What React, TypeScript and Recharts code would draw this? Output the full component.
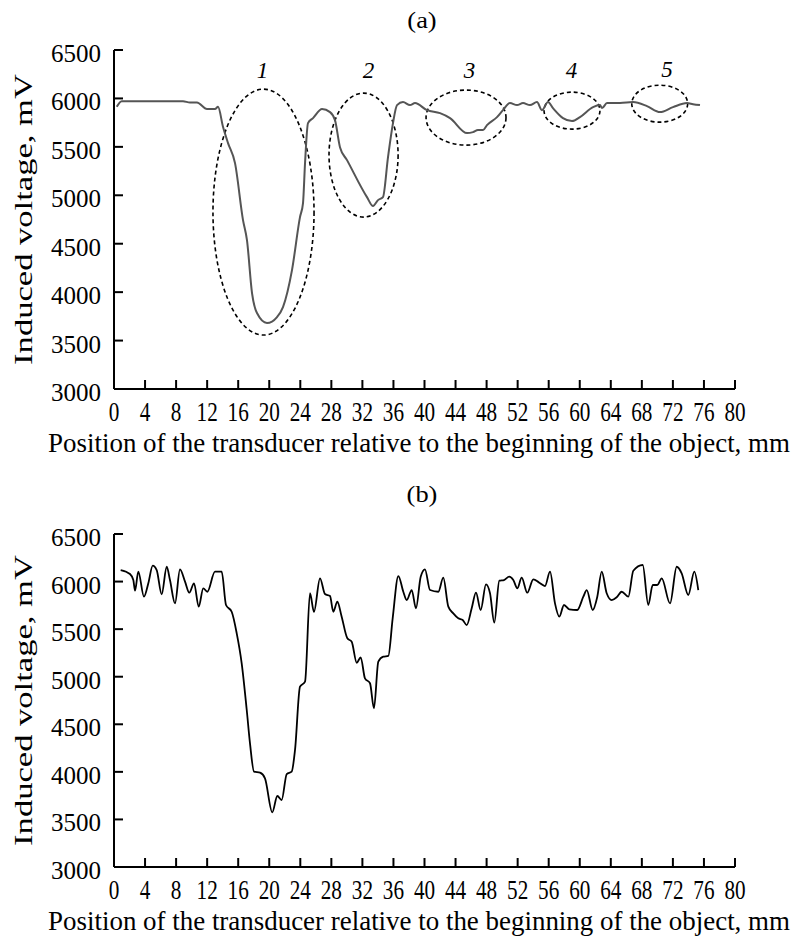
import React from 'react';
import { LineChart, Line, XAxis, YAxis, ReferenceArea, ReferenceDot } from 'recharts';

// ---------- axis ticks ----------
const xTicks = [0, 4, 8, 12, 16, 20, 24, 28, 32, 36, 40, 44, 48, 52, 56, 60, 64, 68, 72, 76, 80];
const yTicks = [3000, 3500, 4000, 4500, 5000, 5500, 6000, 6500];

// ---------- panel (a) ----------
const posA = [0.35, 0.99, 8.89, 9.79, 10.69, 11.98, 13.01, 13.4, 14.04, 14.69, 15.59, 16.62, 17.13, 17.78, 18.42, 19.71, 21.0, 21.77, 22.93, 23.96, 24.35, 24.61, 24.99, 25.64, 26.8, 27.83, 28.47, 29.11, 30.02, 32.59, 33.37, 34.01, 34.65, 35.3, 35.94, 36.46, 37.23, 38.13, 38.78, 40.32, 42.0, 43.29, 45.48, 46.25, 46.89, 47.54, 48.05, 49.34, 50.11, 51.01, 51.92, 52.69, 53.59, 54.49, 55.13, 55.91, 56.55, 57.84, 59.0, 60.03, 61.71, 62.61, 62.87, 63.51, 65.19, 66.86, 68.66, 70.34, 72.01, 73.82, 74.59, 75.49];
const voltA = [5913, 5972, 5972, 5957, 5957, 5890, 5890, 5913, 5707, 5539, 5332, 4744, 4538, 3991, 3784, 3681, 3743, 3846, 4228, 4775, 4920, 5332, 5745, 5797, 5890, 5859, 5776, 5497, 5363, 4981, 4889, 4950, 4981, 5394, 5745, 5931, 5962, 5931, 5952, 5879, 5848, 5797, 5642, 5652, 5673, 5673, 5724, 5807, 5879, 5952, 5931, 5952, 5931, 5962, 5879, 5962, 5900, 5797, 5766, 5807, 5910, 5931, 5900, 5952, 5952, 5962, 5921, 5859, 5910, 5952, 5941, 5931];

// dashed ellipses marking the defects (bounds in mm / mV)
const ellipseLeft = [12.75, 27.7, 40.2, 55.4, 66.7];
const ellipseRight = [25.77, 36.6, 50.5, 62.6, 73.9];
const ellipseTop = [6096, 6055, 6086, 6065, 6137];
const ellipseBottom = [3557, 4775, 5518, 5683, 5755];

// defect numbers
const defectLabels = ['1', '2', '3', '4', '5'];
const defectLabelX = [19.13, 32.79, 45.8, 58.94, 71.24];
const defectLabelY = [6210, 6210, 6210, 6210, 6220];

// ---------- panel (b) ----------
const posB = [0.86, 2.06, 2.49, 2.71, 3.13, 3.86, 4.42, 4.99, 5.5, 6.14, 6.79, 7.21, 7.86, 8.5, 9.15, 9.7, 10.31, 10.91, 11.5, 12.02, 13.01, 13.87, 14.43, 15.16, 15.81, 16.45, 17.1, 17.52, 18.04, 18.81, 19.45, 20.39, 21.04, 21.6, 22.25, 22.89, 23.32, 23.96, 24.61, 25.25, 25.76, 26.54, 27.18, 27.83, 28.25, 28.77, 29.33, 30.06, 30.62, 31.27, 31.78, 32.33, 32.98, 33.49, 34.05, 34.69, 35.34, 35.9, 36.63, 37.27, 37.71, 38.35, 38.9, 39.51, 40.06, 40.71, 41.78, 42.42, 43.07, 43.71, 44.35, 44.92, 45.44, 46.08, 46.63, 47.24, 47.92, 48.44, 48.99, 49.64, 50.24, 50.92, 51.44, 51.96, 52.52, 53.24, 54.02, 54.79, 55.52, 56.17, 56.81, 57.37, 57.97, 58.65, 59.68, 60.46, 60.9, 61.67, 62.26, 62.83, 63.47, 64.12, 64.76, 65.4, 66.26, 66.9, 68.11, 68.83, 69.4, 69.99, 70.56, 71.63, 72.49, 73.13, 73.98, 74.76, 75.27];
const voltB = [6121, 6079, 6016, 5904, 6104, 5841, 5982, 6167, 6121, 5866, 6156, 6016, 5771, 6129, 5999, 5883, 5982, 5736, 5929, 5893, 6104, 6104, 5754, 5683, 5456, 5141, 4650, 4300, 4002, 3991, 3932, 3575, 3746, 3704, 3977, 4002, 4230, 4895, 4948, 5877, 5683, 6034, 5869, 5848, 5683, 5788, 5631, 5404, 5368, 5147, 5204, 4983, 4931, 4668, 5158, 5210, 5218, 5614, 6058, 5893, 5806, 5911, 5719, 6051, 6129, 5911, 5893, 6041, 5736, 5666, 5614, 5596, 5543, 5719, 5883, 5701, 5971, 5877, 5568, 6009, 6016, 6051, 6016, 5929, 6041, 5883, 6024, 5988, 5953, 6104, 5771, 5631, 5754, 5708, 5701, 5841, 5911, 5701, 5841, 6104, 5877, 5806, 5835, 5893, 5841, 6114, 6174, 5754, 5964, 5964, 6034, 5771, 6156, 6087, 5859, 6104, 5911];

const dataA = posA.map((x, i) => ({ x, v: voltA[i] }));
const dataB = posB.map((x, i) => ({ x, v: voltB[i] }));

const FONT = '"Liberation Serif", "Times New Roman", serif';
const X_TITLE = 'Position of the transducer relative to the beginning of the object, mm';
const Y_TITLE = 'Induced voltage, mV';

const XTick = (props: any) => {
  const { x, y, payload } = props;
  const s = String(payload.value);
  return (
    <g transform={`translate(${x}, ${y}) scale(0.785, 1)`}>
      <text x={0} y={0} textAnchor="middle" fontSize={27} fontFamily={FONT} fill="#000">{s}</text>
    </g>
  );
};

const YTick = (props: any) => {
  const { x, y, payload } = props;
  return (
    <text x={x} y={y + 12} textAnchor="end" fontSize={25} fontFamily={FONT} fill="#000">{payload.value}</text>
  );
};

const makeXLabel = (baseline: number, title: string, titleBaseline: number) => () => (
  <g>
    <g transform={`translate(419, ${baseline}) scale(0.962, 1)`}>
      <text x={0} y={0} textAnchor="middle" fontSize={28} fontFamily={FONT} fill="#000">{X_TITLE}</text>
    </g>
    <g transform={`translate(422, ${titleBaseline}) scale(1.1, 1)`}>
      <text x={0} y={0} textAnchor="middle" fontSize={24} fontFamily={FONT} fill="#000">{title}</text>
    </g>
  </g>
);

const makeYLabel = (cy: number) => () => (
  <g transform={`translate(32, ${cy}) rotate(-90) scale(1.33, 1)`}>
    <text x={0} y={0} textAnchor="middle" fontSize={26} fontFamily={FONT} fill="#000">{Y_TITLE}</text>
  </g>
);

const EllipseShape = (props: any) => {
  const { x, y, width, height } = props;
  return (
    <ellipse cx={x + width / 2} cy={y + height / 2} rx={Math.abs(width) / 2} ry={Math.abs(height) / 2}
      fill="none" stroke="#000" strokeWidth={1.6} strokeDasharray="4 3" />
  );
};

const makeNumberShape = (s: string) => (props: any) => (
  <text x={props.cx} y={props.cy} textAnchor="middle" fontSize={23} fontStyle="italic"
    fontFamily={FONT} fill="#000">{s}</text>
);

const axisCommon = {
  axisLine: { stroke: '#000', strokeWidth: 2 },
  tickLine: { stroke: '#000', strokeWidth: 2 },
  tickSize: -9,
};

export default function App() {
  return (
    <div style={{ position: 'absolute', left: 0, top: 0, width: 801, height: 937, background: '#fff' }}>
      <div style={{ position: 'absolute', left: 0, top: 0 }}>
        <LineChart width={801} height={470} data={dataA} margin={{ top: 50, right: 66, bottom: 0, left: 0 }}>
          <XAxis dataKey="x" type="number" domain={[0, 80]} ticks={xTicks} interval={0} height={81}
            {...axisCommon} tickMargin={41} tick={<XTick />} label={{ content: makeXLabel(452, '(a)', 28) }} />
          <YAxis type="number" domain={[3000, 6500]} ticks={yTicks} interval={0} width={114}
            {...axisCommon} tickMargin={22} tick={<YTick />} label={{ content: makeYLabel(219.5) }} />
          {ellipseLeft.map((l, i) => (
            <ReferenceArea key={'e' + i} x1={l} x2={ellipseRight[i]} y1={ellipseBottom[i]} y2={ellipseTop[i]}
              ifOverflow="visible" shape={EllipseShape} />
          ))}
          {defectLabels.map((s, i) => (
            <ReferenceDot key={'n' + i} x={defectLabelX[i]} y={defectLabelY[i]} r={0}
              ifOverflow="visible" shape={makeNumberShape(s)} />
          ))}
          <Line type="monotone" dataKey="v" stroke="#555" strokeWidth={2} dot={false} isAnimationActive={false} />
        </LineChart>
      </div>
      <div style={{ position: 'absolute', left: 0, top: 470 }}>
        <LineChart width={801} height={467} data={dataB} margin={{ top: 64, right: 66, bottom: 0, left: 0 }}>
          <XAxis dataKey="x" type="number" domain={[0, 80]} ticks={xTicks} interval={0} height={70}
            {...axisCommon} tickMargin={41} tick={<XTick />} label={{ content: makeXLabel(460, '(b)', 32) }} />
          <YAxis type="number" domain={[3000, 6500]} ticks={yTicks} interval={0} width={114}
            {...axisCommon} tickMargin={22} tick={<YTick />} label={{ content: makeYLabel(230.5) }} />
          <Line type="monotone" dataKey="v" stroke="#000" strokeWidth={1.8} dot={false} isAnimationActive={false} />
        </LineChart>
      </div>
    </div>
  );
}
